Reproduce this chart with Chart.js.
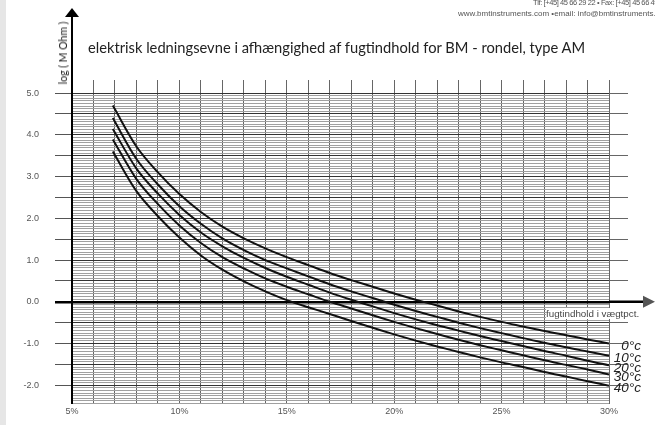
<!DOCTYPE html>
<html>
<head>
<meta charset="utf-8">
<script src="https://cdn.jsdelivr.net/npm/chart.js@4.4.0/dist/chart.umd.min.js"></script>
<style>
  html, body { margin: 0; padding: 0; background: #fff; overflow: hidden; }
  #wrap { position: relative; width: 655px; height: 425px; overflow: hidden; }
  #strip { position: absolute; left: 0; top: 0; width: 6px; height: 425px; background: #e6e6e6; }
  canvas { position: absolute; left: 0; top: 0; }
  .hdr { position: absolute; font-family: "Liberation Sans", sans-serif; font-size: 8px; color: #555; white-space: nowrap; }
  #title { position: absolute; left: 88px; top: 38px; font-family: Lato, sans-serif; font-size: 14.7px; color: #222; white-space: nowrap; }
  #ylab { position: absolute; left: 63px; top: 53px; transform: translate(-50%, -50%) rotate(-90deg);
          font-family: Lato, sans-serif; font-size: 10.5px; color: #222; white-space: nowrap; }
  #xlab { position: absolute; left: 546px; top: 308px; font-family: "Liberation Sans", sans-serif; font-size: 9.8px;
          color: #444; background: #fff; white-space: nowrap; line-height: 11px; }
</style>
</head>
<body>
<div id="wrap">
  <div id="strip"></div>
  <canvas id="chart" width="655" height="425"></canvas>
  <div class="hdr" style="left:533px; top:-2px; font-size:7.5px; letter-spacing:-0.4px;">Tlf: [+45] 45 66 29 22 &bull; Fax: [+45] 45 66 49 2</div>
  <div class="hdr" style="left:458px; top:9px;">www.bmtinstruments.com &bull;email: info@bmtinstruments.com</div>
  <div id="title">elektrisk ledningsevne i afhængighed af fugtindhold for BM - rondel, type AM</div>
  <div id="ylab">log ( M Ohm )</div>
  <div id="xlab">fugtindhold i vægtpct.</div>
</div>
<script>
// fugtindhold (%) where the curves are read
var moisture = [6.9, 8, 9, 10, 11, 12, 13, 14, 15, 16, 17, 18, 19, 20, 21, 22, 23, 24, 25, 26, 27, 28, 29, 30];
var temps = ['0°c', '10°c', '20°c', '30°c', '40°c'];
// log(MOhm) per temperature
var r0  = [4.70, 3.72, 3.10, 2.58, 2.15, 1.80, 1.52, 1.28, 1.07, 0.88, 0.69, 0.52, 0.36, 0.20, 0.05, -0.09, -0.23, -0.36, -0.48, -0.59, -0.70, -0.80, -0.90, -1.00];
var r10 = [4.40, 3.42, 2.81, 2.29, 1.87, 1.52, 1.24, 1.00, 0.80, 0.61, 0.42, 0.25, 0.09, -0.07, -0.22, -0.36, -0.50, -0.63, -0.75, -0.87, -0.98, -1.09, -1.19, -1.29];
var r20 = [4.14, 3.19, 2.59, 2.08, 1.66, 1.33, 1.05, 0.81, 0.60, 0.41, 0.22, 0.05, -0.11, -0.27, -0.42, -0.56, -0.69, -0.82, -0.94, -1.06, -1.18, -1.29, -1.41, -1.52];
var r30 = [3.89, 2.94, 2.34, 1.83, 1.41, 1.07, 0.80, 0.56, 0.36, 0.18, 0.00, -0.16, -0.32, -0.48, -0.63, -0.77, -0.91, -1.04, -1.16, -1.28, -1.40, -1.51, -1.62, -1.74];
var r40 = [3.60, 2.65, 2.05, 1.54, 1.11, 0.77, 0.49, 0.25, 0.04, -0.13, -0.29, -0.46, -0.62, -0.78, -0.93, -1.07, -1.20, -1.33, -1.45, -1.56, -1.68, -1.79, -1.90, -2.01];
var xTicks = [5, 10, 15, 20, 25, 30];
var yTicks = [-2, -1, 0, 1, 2, 3, 4, 5];

var series = [r0, r10, r20, r30, r40];

function half(v) { return Math.abs(v * 2 - Math.round(v * 2)) < 1e-6; }

var extras = {
    id: 'extras',
    afterDraw: function (chart) {
        var ctx = chart.ctx, a = chart.chartArea;
        var y0 = chart.scales.y.getPixelForValue(0);
        ctx.save();
        ctx.strokeStyle = '#000';
        ctx.fillStyle = '#000';
        // y axis arrow
        ctx.lineWidth = 2;
        ctx.beginPath(); ctx.moveTo(a.left, a.top); ctx.lineTo(a.left, 15); ctx.stroke();
        ctx.beginPath(); ctx.moveTo(a.left, 8); ctx.lineTo(a.left - 7, 17); ctx.lineTo(a.left + 7, 17); ctx.closePath(); ctx.fill();
        // x axis arrow
        ctx.lineWidth = 2.5;
        ctx.beginPath(); ctx.moveTo(a.right, y0); ctx.lineTo(645, y0); ctx.stroke();
        ctx.fillStyle = '#555';
        ctx.beginPath(); ctx.moveTo(643, y0 - 6); ctx.lineTo(655, y0); ctx.lineTo(643, y0 + 6); ctx.closePath(); ctx.fill();
        // temperature labels at the end of each curve
        ctx.font = 'italic 13.5px "Liberation Sans"';
        ctx.fillStyle = '#222';
        ctx.textAlign = 'right';
        ctx.textBaseline = 'middle';
        chart.data.datasets.forEach(function (ds, i) {
            var pts = chart.getDatasetMeta(i).data;
            var p = pts[pts.length - 1];
            ctx.fillText(ds.label, p.x + 32, p.y + 3);
        });
        ctx.restore();
    }
};

var datasets = series.map(function (s, i) {
    return {
        label: temps[i],
        data: moisture.map(function (m, j) { return {x: m, y: s[j]}; }),
        borderColor: '#111',
        borderWidth: 2,
        pointRadius: 0,
        cubicInterpolationMode: 'monotone',
        fill: false
    };
});

new Chart(document.getElementById('chart'), {
    type: 'line',
    data: {datasets: datasets},
    plugins: [extras],
    options: {
        responsive: false,
        animation: false,
        layout: {padding: {top: 80, left: 0, right: 0, bottom: 0}},
        plugins: {legend: {display: false}, tooltip: {enabled: false}, title: {display: false}},
        scales: {
            x: {
                type: 'linear', min: 5, max: 30,
                afterFit: function (s) { s.height = 13.4; },
                border: {display: false},
                grid: {color: '#666', lineWidth: 1, drawTicks: false},
                ticks: {
                    stepSize: 1, autoSkip: false, maxRotation: 0, padding: 3,
                    color: '#555', font: {family: 'Liberation Sans', size: 9},
                    callback: function (v) { return xTicks.indexOf(v) >= 0 ? v + '%' : ''; }
                }
            },
            y: {
                type: 'linear', position: 'left', min: -2.4375, max: 5.3125,
                afterFit: function (s) { s.width = 72; },
                border: {display: true, color: '#000', width: 2},
                grid: {
                    tickLength: 17,
                    color: function (c) {
                        var v = c.tick.value;
                        if (v > 5.0001) return 'rgba(0,0,0,0)';
                        if (v === 0) return '#000';
                        return half(v) ? '#333' : '#a0a0a0';
                    },
                    lineWidth: function (c) { return c.tick.value === 0 ? 2.5 : 1; },
                    tickColor: function (c) {
                        var v = c.tick.value;
                        if (v > 5.0001 || !half(v)) return 'rgba(0,0,0,0)';
                        return v === 0 ? '#000' : '#555';
                    },
                    tickWidth: function (c) { return c.tick.value === 0 ? 2.5 : 1; }
                },
                ticks: {
                    stepSize: 0.0625, autoSkip: false, maxTicksLimit: 500, padding: 16,
                    color: '#555', font: {family: 'Liberation Sans', size: 9},
                    callback: function (v) {
                        for (var i = 0; i < yTicks.length; i++) {
                            if (Math.abs(yTicks[i] - v) < 1e-6) return yTicks[i].toFixed(1);
                        }
                        return '';
                    }
                }
            },
            y2: {
                type: 'linear', position: 'right', min: -2.4375, max: 5.3125,
                afterFit: function (s) { s.width = 46; },
                border: {display: false},
                grid: {
                    drawOnChartArea: false, tickLength: 19,
                    tickColor: function (c) {
                        var v = c.tick.value;
                        if (v > 5.0001 || v === 0 || !half(v)) return 'rgba(0,0,0,0)';
                        return '#666';
                    }
                },
                ticks: {display: false, stepSize: 0.0625, autoSkip: false, maxTicksLimit: 500}
            }
        }
    }
});
</script>
</body>
</html>
